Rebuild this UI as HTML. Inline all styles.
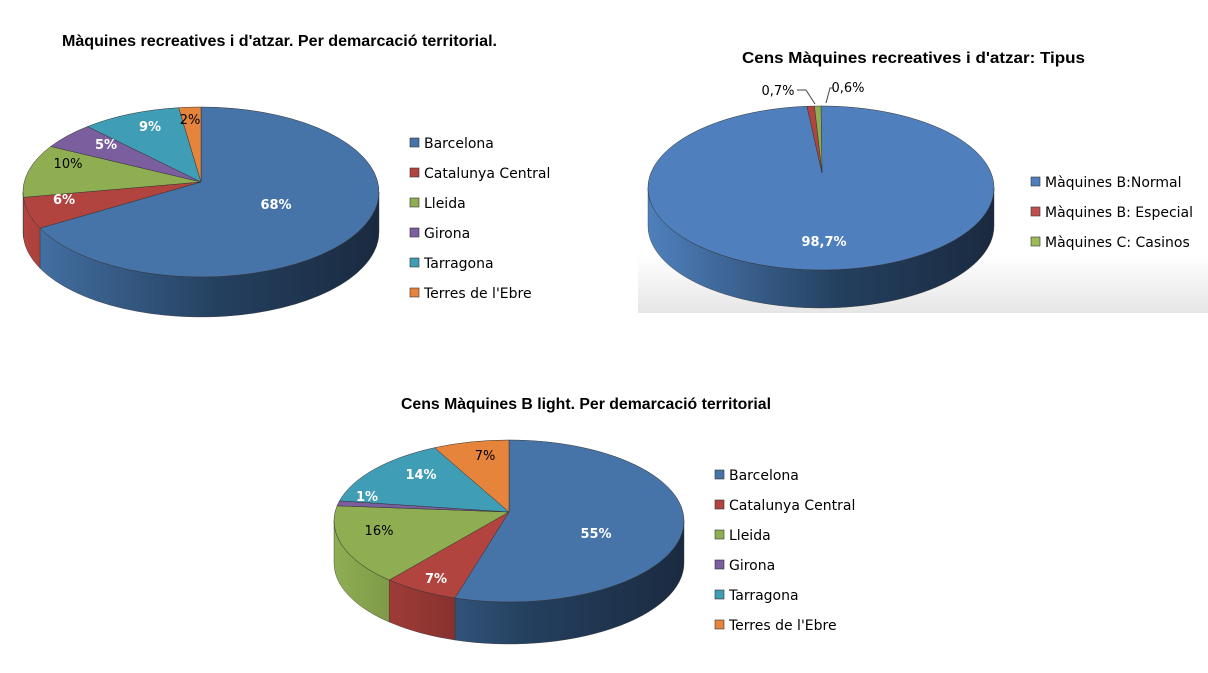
<!DOCTYPE html>
<html><head><meta charset="utf-8"><style>
html,body{margin:0;padding:0;background:#fff;}
svg text{font-family:"DejaVu Sans","Liberation Sans",sans-serif;}
</style></head><body>
<svg id="s" width="1208" height="668" viewBox="0 0 1208 668" xmlns="http://www.w3.org/2000/svg">
<defs>
<linearGradient id="bg2" x1="0" y1="0" x2="0" y2="1"><stop offset="0" stop-color="#fff"/><stop offset="1" stop-color="#e6e6e6"/></linearGradient>
</defs>
<rect x="638" y="255" width="570" height="58" fill="url(#bg2)"/>
<g id="g"></g>
<g font-weight="bold" fill="#000">
<text x="62" y="46" style="font-family:'Liberation Sans',sans-serif" font-size="16" textLength="435" lengthAdjust="spacingAndGlyphs">Màquines recreatives i d'atzar. Per demarcació territorial.</text>
<text x="742" y="63" style="font-family:'Liberation Sans',sans-serif" font-size="16" textLength="343" lengthAdjust="spacingAndGlyphs">Cens Màquines recreatives i d'atzar: Tipus</text>
<text x="401" y="409" style="font-family:'Liberation Sans',sans-serif" font-size="16" textLength="370" lengthAdjust="spacingAndGlyphs">Cens Màquines B light. Per demarcació territorial</text>
</g>
</svg>
<script>
var C={b:["#4673a8","#24405f"],r:["#b2443f","#6e2624"],g:["#8fae52","#55692f"],p:["#7b5e9d","#4f3b68"],t:["#3f9db6","#2a6c7e"],o:["#e6843c","#a65a25"],b2:["#4f80bd","#24405f"]};
var g=document.getElementById('g'),defs=document.querySelector('defs'),out='',gid=0;
function pie(cx,cy,rx,ry,d,ax,ay,vals,cols){
 function P(t,dy){t=t*Math.PI/180;return [cx+rx*Math.sin(t),cy-ry*Math.cos(t)+(dy||0)];}
 var a=0,sl=[];vals.forEach(function(v,i){sl.push([a,a+v*3.6,cols[i]]);a+=v*3.6;});
 sl.forEach(function(s){var a0=Math.max(s[0],90),a1=Math.min(s[1],270);if(a1<=a0)return;
  var p0=P(a0),p1=P(a1),q1=P(a1,d),q0=P(a0,d);
  var c=C[s[2]];var id='sd'+(gid++);
  defs.insertAdjacentHTML('beforeend','<linearGradient id="'+id+'" gradientUnits="userSpaceOnUse" x1="'+(cx-rx)+'" x2="'+(cx+rx)+'" y1="0" y2="0"><stop offset="0" stop-color="'+c[0]+'"/><stop offset="0.55" stop-color="'+c[1]+'"/><stop offset="1" stop-color="#1a2a40"/></linearGradient>');
  out+='<path d="M'+p0+' A'+rx+' '+ry+' 0 0 1 '+p1+' L'+q1+' A'+rx+' '+ry+' 0 0 0 '+q0+' Z" fill="url(#'+id+')" stroke="#333" stroke-width="0.4"/>';});
 sl.forEach(function(s){var p0=P(s[0]),p1=P(s[1]),la=(s[1]-s[0])>180?1:0;
  out+='<path d="M'+ax+' '+ay+' L'+p0+' A'+rx+' '+ry+' 0 '+la+' 1 '+p1+' Z" fill="'+C[s[2]][0]+'" stroke="#333" stroke-width="0.5"/>';});
}
pie(201,192,178,85,40,201,182,[68,6,10,5,9,2],['b','r','g','p','t','o']);
pie(821,188,173,82,38,822,173,[98.7,0.7,0.6],['b2','r','g']);
pie(509,521,175,81,42,509,512,[55,7,16,1,14,7],['b','r','g','p','t','o']);
function T(x,y,s,w){out+='<text x="'+x+'" y="'+y+'" font-size="13" fill="'+(w?'#fff':'#000')+'" text-anchor="middle" font-weight="'+(w?'bold':'normal')+'">'+s+'</text>';}
T(276,209,'68%',1);T(64,204,'6%',1);T(68,168,'10%');T(106,149,'5%',1);T(150,131,'9%',1);T(190,124,'2%');
T(824,246,'98,7%',1);T(778,95,'0,7%');T(848,92,'0,6%');
out+='<path d="M797 90 H806 L815 104 M826 103 L830 88 H834" stroke="#444" fill="none" stroke-width="1"/>';
T(596,538,'55%',1);T(436,583,'7%',1);T(379,535,'16%');T(367,501,'1%',1);T(421,479,'14%',1);T(485,460,'7%');
function L(x,y,items){items.forEach(function(it,i){var yy=y+i*30;out+='<rect x="'+x+'" y="'+(yy-10)+'" width="9" height="9" fill="'+it[1]+'" stroke="#333" stroke-width="0.6"/><text x="'+(x+14)+'" y="'+yy+'" font-size="14" fill="#000">'+it[0]+'</text>';});}
L(410,148,[["Barcelona","#4673a8"],["Catalunya Central","#b2443f"],["Lleida","#8fae52"],["Girona","#7b5e9d"],["Tarragona","#3f9db6"],["Terres de l'Ebre","#e6843c"]]);
L(1031,187,[["Màquines B:Normal","#4f80bd"],["Màquines B: Especial","#c0504d"],["Màquines C: Casinos","#9bbb59"]]);
L(715,480,[["Barcelona","#4673a8"],["Catalunya Central","#b2443f"],["Lleida","#8fae52"],["Girona","#7b5e9d"],["Tarragona","#3f9db6"],["Terres de l'Ebre","#e6843c"]]);
g.innerHTML=out;
</script>
</body></html>
